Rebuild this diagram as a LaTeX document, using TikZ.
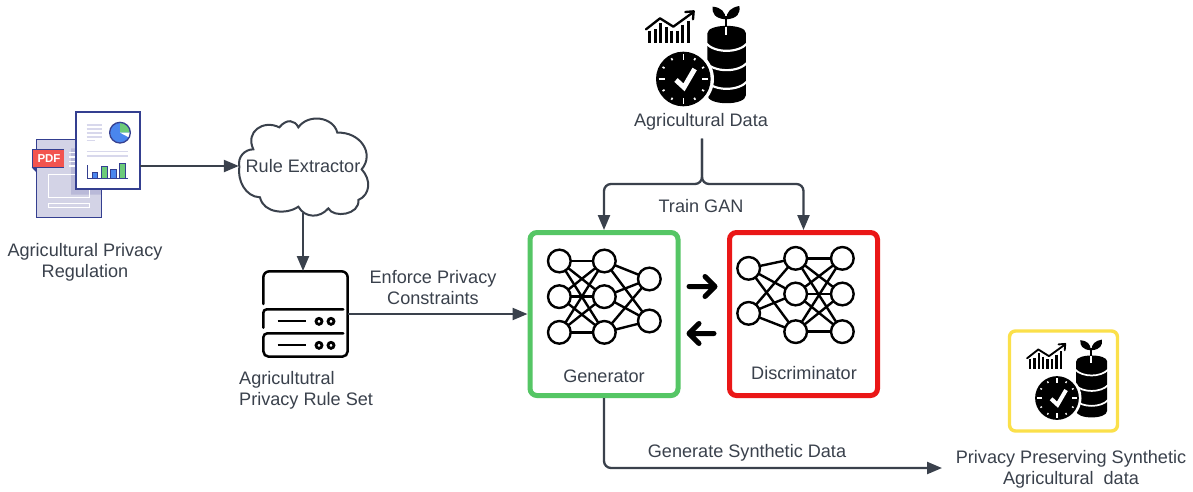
\documentclass[tikz,border=0pt]{standalone}
\usepackage{fontspec}
\setmainfont{Liberation Sans}
\usetikzlibrary{arrows.meta,calc}
\definecolor{ink}{HTML}{3A414C}
\definecolor{navy}{HTML}{343F90}
\definecolor{lav}{HTML}{D3D3E6}
\definecolor{lavd}{HTML}{B9B9D8}
\definecolor{pale}{HTML}{D8D8EC}
\definecolor{pdfred}{HTML}{F2544F}
\definecolor{barblue}{HTML}{4A86EE}
\definecolor{bargreen}{HTML}{6CCB7A}
\definecolor{gengreen}{HTML}{55C665}
\definecolor{discred}{HTML}{EA1717}
\definecolor{outyellow}{HTML}{FBE04A}
\tikzset{
  lbl/.style={font=\fontsize{18.1}{21.5}\selectfont,text=ink,align=center,inner sep=0pt},
  conn/.style={draw=ink,line width=2.3pt,rounded corners=7pt,-{Triangle[length=15pt,width=12pt]}},
  frame/.style={draw=#1,line width=5pt,rounded corners=7pt,fill=white,minimum width=148pt,minimum height=163pt,inner sep=0pt},
  holder/.style={inner sep=0pt,outer sep=0pt},
  bigarrow/.style={line width=5pt,line cap=round,line join=round,black},
  nnline/.style={line width=2.4pt,black},
  nncirc/.style={line width=2.4pt,draw=black,fill=white},
}
\newcommand{\dataicon}[3]{%
\begin{scope}[shift={(#1,#2)},scale=#3]
  % chart
  \foreach \bx/\by in {88/92,105/88,122/70,138/82,155/92,172/92,188/74,205/62}
    \draw[black,line width={#3*9pt}] (\bx,\by) -- (\bx,128);
  \draw[white,line width={#3*18pt},line join=round] (74,84) -- (120,54) -- (160,78) -- (216,40);
  \draw[black,line width={#3*7pt},line join=round,line cap=round] (78,88) -- (120,55) -- (160,80) -- (218,38);
  \draw[black,line width={#3*7pt},line join=round,line cap=round] (196,36) -- (221,34) -- (219,58);
  % database
  \fill[black] (262,100) .. controls (262,70) and (378,70) .. (378,100)
     -- (378,285) .. controls (378,318) and (262,318) .. (262,285) -- cycle;
  \foreach \sy in {130,188,244}
    \draw[white,line width={#3*6.5pt}] (258,\sy) .. controls (285,\sy+30) and (355,\sy+30) .. (382,\sy);
  % sprout
  \draw[black,line width={#3*6pt}] (318,80) -- (318,48);
  \draw[white,line width={#3*6pt}] (318,80) -- (318,104);
  \fill[black] (316,58) .. controls (285,55) and (275,40) .. (278,20) .. controls (302,22) and (318,35) .. (316,58) -- cycle;
  \fill[black] (320,58) .. controls (352,55) and (362,40) .. (358,18) .. controls (334,22) and (318,35) .. (320,58) -- cycle;
  % clock
  \fill[white] (190,237) circle (92);
  \fill[black] (190,237) circle (82);
  \foreach \a in {0,90,180,270}
    \draw[white,line width={#3*5pt}] (190,237) ++(\a:74) -- ++(\a:-18);
  \foreach \a in {30,60,120,150,210,240,300,330}
    \draw[white,line width={#3*5pt}] (190,237) ++(\a:72) -- ++(\a:-7);
  \draw[white,line width={#3*15pt}] (168,240) -- (192,262) -- (224,207);
\end{scope}}
\begin{document}
\begin{tikzpicture}[x=1pt,y=-1pt]
\useasboundingbox (0,0) rectangle (1193,491);
\fill[white] (0,0) rectangle (1193,491);

% --- PDF / report icon
\begin{scope}[shift={(0,90)},scale=1/3]
  \fill[lav] (110,148) rectangle (305,382);
  \fill[lavd] (213,175) rectangle (228,312) (213,298) rectangle (305,314);
  \draw[navy,line width=1.6pt] (110,148) rectangle (305,382);
  \draw[white,line width=1.4pt] (145,253) rectangle (268,322) (145,340) rectangle (268,352);
  \foreach \ly in {187,201,215,228} \draw[white,line width=1.2pt] (208,\ly) -- (226,\ly);
  \fill[navy] (95,232) -- (108,246) -- (108,232) -- cycle;
  \fill[navy] (95,178) rectangle (193,234);
  \fill[pdfred] (99,181) rectangle (193,232);
  \node[holder,text=white,font=\fontsize{11.5}{12}\selectfont\bfseries] (pdftag) at (147,207) {PDF};
  \draw[navy,line width=1.8pt,fill=white] (228,65) rectangle (420,298);
  \foreach \ly in {105,117,129,141} \draw[pale,line width=1.5pt] (260,\ly) -- (305,\ly);
  \draw[pale,line width=1.5pt] (260,152) -- (285,152);
  \foreach \ly in {185,198} \draw[pale,line width=1.5pt] (260,\ly) -- (385,\ly);
  \fill[barblue] (360,128) circle (30);
  \fill[bargreen] (360,128) -- (360,98) arc (-90:0:30) -- cycle;
  \fill[white] (360,128) -- (390,128) arc (0:28:30) -- cycle;
  \draw[navy,line width=1.3pt] (360,128) circle (31);
  \filldraw[fill=barblue,draw=navy,line width=.9pt] (276,246) rectangle (293,265) (330,238) rectangle (348,265);
  \filldraw[fill=bargreen,draw=navy,line width=.9pt] (303,228) rectangle (321,265) (358,220) rectangle (376,265);
  \draw[navy,line width=1.3pt] (263,225) -- (263,265) -- (385,265);
\end{scope}
\node[holder,minimum width=64pt,minimum height=78pt] (reg) at (108,150) {};
\node[lbl] (reglbl) at (85,262.5) {Agricultural Privacy\\Regulation};

% --- cloud
\begin{scope}[shift={(0,90)},scale=1/3]
  \draw[ink,line width=2pt,fill=white]
    (718,230) .. controls (712,200) and (735,178) .. (760,178)
    .. controls (735,125) and (790,88) .. (838,112)
    .. controls (860,85) and (885,90) .. (895,112)
    .. controls (925,70) and (1000,80) .. (1012,128)
    .. controls (1080,125) and (1125,190) .. (1085,238)
    .. controls (1115,270) and (1110,315) .. (1075,330)
    .. controls (1080,375) and (1000,385) .. (985,355)
    .. controls (960,385) and (915,385) .. (895,350)
    .. controls (860,375) and (790,370) .. (780,322)
    .. controls (735,320) and (712,270) .. (718,230) -- cycle;
\end{scope}
\node[lbl,minimum width=128pt,minimum height=94pt] (cloud) at (303,166) {};
\node[lbl] (cloudlbl) at (303,166) {Rule Extractor};

% --- rule set icon
\begin{scope}[shift={(230,260)},scale=1/3]
  \draw[black,line width=2.5pt,line cap=round] (100,132) -- (100,52) arc (180:270:18) -- (335,34) arc (-90:0:18) -- (353,274) arc (0:90:16) -- (116,290) arc (90:180:16) -- (100,232) arc (180:270:12) -- (340,220);
  \draw[black,line width=2.5pt,line cap=round] (340,148) -- (110,148) arc (270:180:10) -- (100,203);
  \foreach \ly in {183,255} {
    \draw[black,line width=2.5pt] (143,\ly) -- (227,\ly);
    \draw[black,line width=2.8pt] (267,\ly+1) circle (9);
    \draw[black,line width=2.8pt] (303,\ly+1) circle (9);
  }
\end{scope}
\node[holder,minimum width=85pt,minimum height=86pt] (rules) at (305.5,314) {};
\node[lbl,align=left,anchor=west] (ruleslbl) at (239,390.5) {Agricultutral\\Privacy Rule Set};

% --- data icon
\dataicon{620}{0}{0.3333}
\node[lbl,minimum height=34pt] (data) at (701,121.5) {Agricultural Data};
\coordinate (split) at (702,184);

% --- generator
\node[frame=gengreen] (gen) at (604,314) {};
\begin{scope}[shift={(520,220)},scale=1/3]
  \foreach \ay in {123,230,337} \foreach \by in {123,230,337}
    \draw[nnline] (118,\ay) -- (253,\by);
  \foreach \ay in {123,230,337} \foreach \by in {177,303}
    \draw[nnline] (253,\ay) -- (388,\by);
  \foreach \cx/\cy in {118/123,118/230,118/337,253/123,253/230,253/337,388/177,388/303}
    \draw[nncirc] (\cx,\cy) circle (34);
\end{scope}
\node[lbl] (genlbl) at (604,376) {Generator};

% --- discriminator
\node[frame=discred] (disc) at (803.5,314) {};
\begin{scope}[shift={(520,220)},scale=1/3]
  \foreach \ay in {145,280} \foreach \by in {115,222,335}
    \draw[nnline] (686,\ay) -- (827,\by);
  \foreach \ay in {115,222,335} \foreach \by in {115,222,335}
    \draw[nnline] (827,\ay) -- (967,\by);
  \foreach \cx/\cy in {686/145,686/280,827/115,827/222,827/335,967/115,967/222,967/335}
    \draw[nncirc] (\cx,\cy) circle (34);
\end{scope}
\node[lbl] (disclbl) at (804,373.5) {Discriminator};

% --- arrows between generator and discriminator
\coordinate (fa) at (689,286.5);
\coordinate (fb) at (715,286.5);
\coordinate (ba) at (714,333.5);
\coordinate (bb) at (689,333.5);
\draw[bigarrow] (fa) -- (fb) ($(fb)+(-10,-10)$) -- (fb) -- ($(fb)+(-10,10)$);
\draw[bigarrow] (ba) -- (bb) ($(bb)+(10,-10)$) -- (bb) -- ($(bb)+(10,10)$);

% --- output
\node[draw=outyellow,line width=3.4pt,rounded corners=6pt,minimum width=108pt,minimum height=100pt,inner sep=0pt] (out) at (1063.5,381) {};
\dataicon{1006.3}{334.8}{0.2667}
\node[lbl] (outlbl) at (1071,469.5) {Privacy Preserving Synthetic\\Agricultural\ \ data\hspace{16pt}};
\coordinate (outend) at (942,468);

% --- connectors
\draw[conn] (reg.east |- cloud.west) -- (cloud.west);
\draw[conn] (cloud.south) -- (cloud.south |- rules.north);
\draw[conn] (rules.east) -- (rules.east -| gen.west);
\draw[conn] (data.south -| split) -- (split) -| (gen.north);
\draw[conn] (data.south -| split) -- (split) -| (disc.north);
\draw[conn] (gen.south) |- (outend);

% --- connector labels
\node[lbl] (enforce) at (433,287.5) {Enforce Privacy\\Constraints};
\node[lbl] (train) at (701,206) {Train GAN};
\node[lbl] (synth) at (747,453) {Generate Synthetic Data};
\end{tikzpicture}
\end{document}
